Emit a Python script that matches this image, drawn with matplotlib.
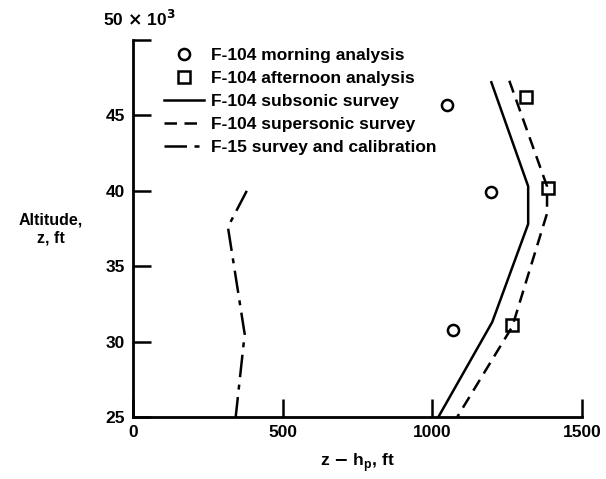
import matplotlib.pyplot as plt
import numpy as np

plt.rcParams['font.family'] = ['Liberation Sans', 'DejaVu Sans']
plt.rcParams['font.weight'] = 'bold'

# F-104 morning analysis (circles)
morning_x = [1050, 1197, 1070]
morning_z = [45.7, 39.9, 30.8]
# F-104 afternoon analysis (squares)
afternoon_x = [1313, 1387, 1267]
afternoon_z = [46.2, 40.2, 31.1]
# F-104 subsonic survey
sub_x = [1197, 1320, 1320, 1200, 1020]
sub_z = [47.2, 40.3, 37.8, 31.3, 25.0]
# F-104 supersonic survey
sup_x = [1257, 1383, 1383, 1267, 1083]
sup_z = [47.3, 40.3, 38.5, 31.0, 25.0]
# F-15 survey and calibration
f15_x = [380, 317, 373, 343]
f15_z = [40.0, 37.6, 30.5, 25.0]

fig = plt.figure(figsize=(6.06, 4.79), dpi=100)
ax = fig.add_axes([0.2195, 0.1294, 0.741, 0.787])

ax.plot(morning_x, morning_z, 'o', mfc='none', mec='black', mew=1.8, ms=8,
        label='F-104 morning analysis')
ax.plot(afternoon_x, afternoon_z, 's', mfc='none', mec='black', mew=1.8, ms=8,
        label='F-104 afternoon analysis')
ax.plot(sub_x, sub_z, '-', color='black', lw=1.8, label='F-104 subsonic survey')
ax.plot(sup_x, sup_z, '--', color='black', lw=1.8, dashes=(5, 3),
        label='F-104 supersonic survey')
ax.plot(f15_x, f15_z, color='black', lw=1.8, dashes=(9, 3, 2, 3),
        label='F-15 survey and calibration')

ax.set_xlim(0, 1500)
ax.set_ylim(25, 50)
ax.spines['top'].set_visible(False)
ax.spines['right'].set_visible(False)
ax.spines['left'].set_linewidth(2)
ax.spines['bottom'].set_linewidth(2)
ax.set_xticks([0, 500, 1000, 1500])
ax.set_yticks([25, 30, 35, 40, 45, 50])
ax.set_yticklabels(['25', '30', '35', '40', '45', ''])
ax.tick_params(direction='in', length=13, width=1.8, labelsize=12.5)
ax.tick_params(axis='y', pad=6)
ax.tick_params(axis='x', pad=6)
for lab in ax.get_xticklabels() + ax.get_yticklabels():
    lab.set_fontweight('bold')

ax.text(-0.067, 1.03, r'50 $\times$ 10$^3$', transform=ax.transAxes,
        ha='left', va='bottom', fontsize=12.5, fontweight='bold')
ax.set_xlabel(r'z $-$ h$_\mathregular{p}$, ft', fontsize=12.5,
              fontweight='bold', labelpad=8)
fig.text(0.084, 0.522, 'Altitude,\nz, ft', ha='center', va='center',
         fontsize=11.5, fontweight='bold', linespacing=1.3)

leg = ax.legend(loc='upper left', bbox_to_anchor=(0.035, 1.02), frameon=False,
                handlelength=2.3, handletextpad=0.4, labelspacing=0.45,
                prop={'weight': 'bold', 'size': 12.5})

fig.savefig('out.png', dpi=100)
